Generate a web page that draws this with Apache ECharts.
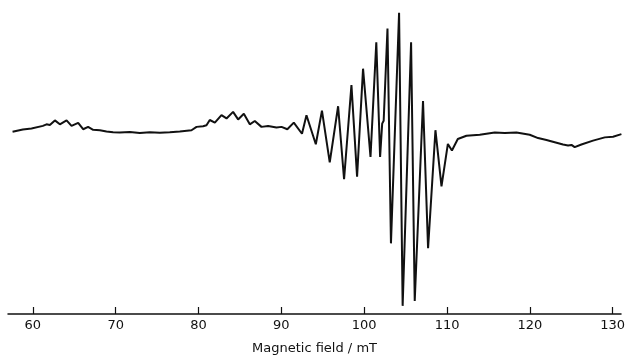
<!DOCTYPE html>
<html>
<head>
<meta charset="utf-8">
<script src="https://cdn.jsdelivr.net/npm/echarts@6/dist/echarts.min.js"></script>
<style>html,body{margin:0;padding:0;background:#fff;}#c{width:631px;height:360px;}</style>
</head>
<body>
<div id="c"></div>
<script>
// Magnetic field (mT)
var fieldMT = [57.55,58.79,59.84,61.21,61.65,62.05,62.66,63.26,64.07,64.67,65.47,66.07,66.67,67.28,68.09,68.89,69.69,70.5,71.71,72.91,74.12,75.33,76.53,77.74,79.15,79.76,80.55,80.96,81.36,81.97,82.77,83.38,84.17,84.78,85.47,86.19,86.79,87.6,88.4,89.41,90.02,90.72,91.5,92.49,93.03,94.16,94.9,95.84,96.85,97.57,98.46,99.14,99.86,100.76,101.46,101.92,102.17,102.35,102.81,103.23,104.21,104.64,105.66,106.1,107.1,107.71,108.6,109.33,110.1,110.59,111.3,112.34,113.95,115.76,116.97,118.38,119.98,120.99,122.0,123.0,124.0,124.61,125.02,125.41,126.22,127.62,129.04,130.04,131.05];
// Signal intensity (arbitrary units, derivative EPR spectrum)
var intensity = [-1.3,1,2,4.7,6.3,5.7,10.3,6.3,10.3,4.7,7.7,1.3,3.7,0.7,0.3,-1,-1.7,-2,-1.5,-2.5,-1.7,-2.3,-1.7,-1,0.3,3.7,4.3,5.3,10.7,8,15.7,12.3,19,11.3,17,6.3,9.7,3.7,4.7,3,3.7,1.3,8,-3.3,15.5,-14,20.3,-32.5,24.7,-49.7,46.3,-47,63,-27,90,-27,7,10,104,-115,120,-178.7,90,-173.7,30,-120,0.3,-57,-13.7,-20.3,-8.7,-5.3,-4.3,-2,-2.5,-2,-4.3,-7.7,-9.7,-12,-14.3,-15.3,-14.7,-17,-14.3,-10.3,-7,-6.3,-3.7];
// Axis tick labels
var tickValues = [60,70,80,90,100,110,120,130];

var data = fieldMT.map(function(x,i){return [x, intensity[i]];});
var chart = echarts.init(document.getElementById('c'), null, {renderer:'canvas'});
chart.setOption({
  animation:false,
  backgroundColor:'#fff',
  grid:{left:8,right:10,top:0,bottom:40},
  xAxis:{
    type:'value', min:57, max:131,
    name:'Magnetic field / mT', nameLocation:'middle', nameGap:28,
    nameTextStyle:{color:'#111',fontSize:13,fontFamily:'DejaVu Sans'},
    axisLine:{show:true,onZero:false,lineStyle:{color:'#111',width:1.5}},
    axisTick:{show:true,inside:true,length:7,lineStyle:{color:'#111',width:1.2},customValues:tickValues},
    axisLabel:{color:'#111',fontSize:13,fontFamily:'DejaVu Sans',margin:5,customValues:tickValues},
    splitLine:{show:false}
  },
  yAxis:{type:'value',min:-187,max:133,show:false,splitLine:{show:false}},
  series:[{
    type:'line', data:data, showSymbol:false, smooth:false,
    lineStyle:{color:'#111',width:2}
  }]
});
</script>
</body>
</html>
